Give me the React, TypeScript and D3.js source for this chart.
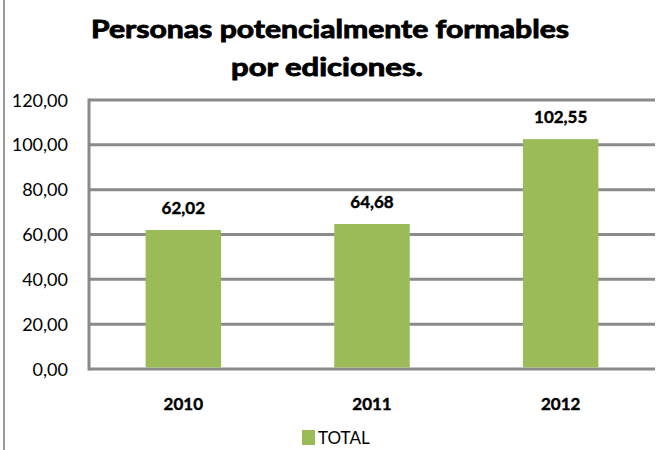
import React from "react";
import * as d3 from "d3";

const categories = ["2010", "2011", "2012"];
const values = [62.02, 64.68, 102.55];
const yTicks = [0, 20, 40, 60, 80, 100, 120];
const seriesName = "TOTAL";
const titleLines = ["Personas potencialmente formables", "por ediciones."];

const W = 667;
const H = 450;
const plot = { left: 89, right: 655, top: 100, bottom: 369 };
const FONT = "Lato, 'Open Sans', sans-serif";
const GRID = "#8a8a8a";
const BAR = "#9bbb59";

const fmt = (v: number) => v.toFixed(2).replace(".", ",");

export default function App() {
  const x = d3
    .scaleBand<string>()
    .domain(categories)
    .range([plot.left, plot.right])
    .paddingInner(0.6)
    .paddingOuter(0.3);
  const y = d3.scaleLinear().domain([0, 120]).range([plot.bottom, plot.top]);

  return (
    <svg
      width={W}
      height={H}
      style={{ position: "absolute", left: 0, top: 0, background: "#fff" }}
      fontFamily={FONT}
    >
      <rect x={0} y={0} width={W} height={H} fill="#fff" />
      <line x1={4} x2={4} y1={0} y2={H} stroke="#999" strokeWidth={2} />
      <text x={330} y={38} textAnchor="middle" fontSize={25} fontWeight={700} fill="#000" stroke="#000" strokeWidth={0.9} textLength={478} lengthAdjust="spacingAndGlyphs">
        {titleLines[0]}
      </text>
      <text x={327} y={76} textAnchor="middle" fontSize={25} fontWeight={700} fill="#000" stroke="#000" strokeWidth={0.9} textLength={192} lengthAdjust="spacingAndGlyphs">
        {titleLines[1]}
      </text>
      {yTicks.map((t) => (
        <g key={t}>
          <line x1={plot.left} x2={plot.right} y1={y(t)} y2={y(t)} stroke={GRID} strokeWidth={3} />
          <text x={68} y={y(t) + 6.5} textAnchor="end" fontSize={18} fill="#000">
            {fmt(t)}
          </text>
        </g>
      ))}
      <line x1={plot.left} x2={plot.left} y1={plot.top - 1.5} y2={plot.bottom + 1.5} stroke={GRID} strokeWidth={3} />
      {categories.map((c, i) => (
        <g key={c}>
          <rect x={x(c)} y={y(values[i])} width={x.bandwidth()} height={plot.bottom - 1.5 - y(values[i])} fill={BAR} />
          <text x={x(c)! + x.bandwidth() / 2} y={y(values[i]) - 16} textAnchor="middle" fontSize={17} fontWeight={700} fill="#000" stroke="#000" strokeWidth={0.4}>
            {fmt(values[i])}
          </text>
          <text x={x(c)! + x.bandwidth() / 2} y={410} textAnchor="middle" fontSize={17} fontWeight={700} fill="#000" stroke="#000" strokeWidth={0.4}>
            {c}
          </text>
        </g>
      ))}
      <rect x={302} y={430} width={13} height={15} fill={BAR} />
      <text x={318} y={444} fontSize={17} fill="#000">
        {seriesName}
      </text>
    </svg>
  );
}
